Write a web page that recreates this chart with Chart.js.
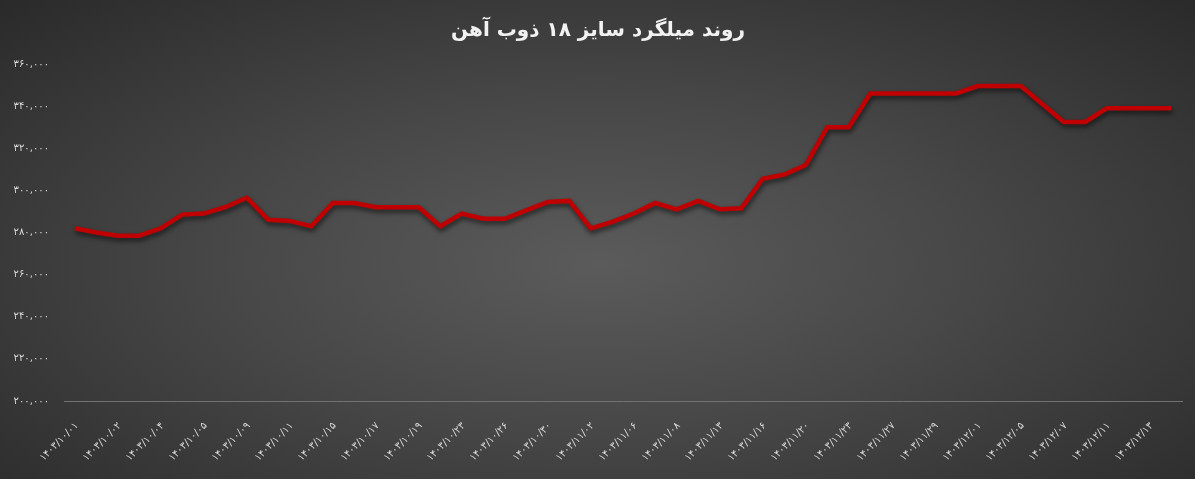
<!DOCTYPE html>
<html>
<head>
<meta charset="utf-8">
<script src="https://cdn.jsdelivr.net/npm/chart.js@4"></script>
<style>
  html, body { margin: 0; padding: 0; }
  body {
    width: 1195px; height: 479px; overflow: hidden;
    background: radial-gradient(ellipse farthest-corner at 50% 55%, #5b5b5b 0%, #474747 45%, #2a2a2a 100%);
  }
</style>
</head>
<body>
<canvas id="rebarChart" width="1195" height="479"></canvas>
<script>
const chartTitle = 'روند میلگرد سایز ۱۸ ذوب آهن';

// trading days (every other one is shown on the axis)
const dates = [
    '۱۴۰۳/۱۰/۰۱', '۱۴۰۳/۱۰/۰۱', '۱۴۰۳/۱۰/۰۲', '۱۴۰۳/۱۰/۰۳', '۱۴۰۳/۱۰/۰۴', '۱۴۰۳/۱۰/۰۴',
    '۱۴۰۳/۱۰/۰۵', '۱۴۰۳/۱۰/۰۸', '۱۴۰۳/۱۰/۰۹', '۱۴۰۳/۱۰/۱۰', '۱۴۰۳/۱۰/۱۱', '۱۴۰۳/۱۰/۱۲',
    '۱۴۰۳/۱۰/۱۵', '۱۴۰۳/۱۰/۱۶', '۱۴۰۳/۱۰/۱۷', '۱۴۰۳/۱۰/۱۸', '۱۴۰۳/۱۰/۱۹', '۱۴۰۳/۱۰/۲۲',
    '۱۴۰۳/۱۰/۲۳', '۱۴۰۳/۱۰/۲۴', '۱۴۰۳/۱۰/۲۶', '۱۴۰۳/۱۰/۲۹', '۱۴۰۳/۱۰/۳۰', '۱۴۰۳/۱۱/۰۱',
    '۱۴۰۳/۱۱/۰۲', '۱۴۰۳/۱۱/۰۳', '۱۴۰۳/۱۱/۰۶', '۱۴۰۳/۱۱/۰۷', '۱۴۰۳/۱۱/۰۸', '۱۴۰۳/۱۱/۱۰',
    '۱۴۰۳/۱۱/۱۳', '۱۴۰۳/۱۱/۱۴', '۱۴۰۳/۱۱/۱۶', '۱۴۰۳/۱۱/۱۷', '۱۴۰۳/۱۱/۲۰', '۱۴۰۳/۱۱/۲۱',
    '۱۴۰۳/۱۱/۲۳', '۱۴۰۳/۱۱/۲۴', '۱۴۰۳/۱۱/۲۷', '۱۴۰۳/۱۱/۲۸', '۱۴۰۳/۱۱/۲۹', '۱۴۰۳/۱۱/۳۰',
    '۱۴۰۳/۱۲/۰۱', '۱۴۰۳/۱۲/۰۴', '۱۴۰۳/۱۲/۰۵', '۱۴۰۳/۱۲/۰۶', '۱۴۰۳/۱۲/۰۷', '۱۴۰۳/۱۲/۰۸',
    '۱۴۰۳/۱۲/۱۱', '۱۴۰۳/۱۲/۱۲', '۱۴۰۳/۱۲/۱۳', '۱۴۰۳/۱۲/۱۴'
];

const prices = [
    282000, 280000, 278500, 278500, 282000, 288500, 289000, 292000, 296500, 286000,
    285500, 283000, 294000, 294000, 292000, 292000, 292000, 283000, 289000, 286500,
    286500, 290500, 294500, 295000, 282000, 285000, 289000, 294000, 291000, 295000,
    291000, 291500, 305500, 307500, 312000, 330000, 330000, 346000, 346000, 346000,
    346000, 346000, 349500, 349500, 349500, 341000, 332500, 332500, 339000, 339000,
    339000, 339000
];

const yMin = 200000;
const yMax = 360000;
const yStep = 20000;

const fontFamily = "'DejaVu Sans', sans-serif";
const faDigits = '۰۱۲۳۴۵۶۷۸۹';

function toFa(value) {
    const s = String(value).replace(/\B(?=(\d{3})+(?!\d))/g, ',');
    return s.replace(/\d/g, d => faDigits[d]);
}

// soft drop shadow under the line
const lineShadow = {
    id: 'lineShadow',
    beforeDatasetDraw(chart) {
        const ctx = chart.ctx;
        ctx.save();
        ctx.shadowColor = 'rgba(0, 0, 0, 0.6)';
        ctx.shadowBlur = 5;
        ctx.shadowOffsetX = 1;
        ctx.shadowOffsetY = 3;
    },
    afterDatasetDraw(chart) {
        chart.ctx.restore();
    }
};

const ctx = document.getElementById('rebarChart').getContext('2d');
new Chart(ctx, {
    type: 'line',
    data: {
        labels: dates,
        datasets: [{
            data: prices,
            borderColor: '#c00000',
            borderWidth: 4.5,
            pointRadius: 0,
            tension: 0,
            fill: false
        }]
    },
    options: {
        responsive: false,
        animation: false,
        layout: { padding: { left: 14, right: 13, top: 0, bottom: 0 } },
        plugins: {
            legend: { display: false },
            tooltip: { enabled: false },
            title: {
                display: true,
                text: chartTitle,
                color: '#f2f2f2',
                font: { family: fontFamily, size: 20, weight: 'bold' },
                padding: { top: 19, bottom: 21 }
            }
        },
        scales: {
            x: {
                offset: true,
                grid: { display: false, drawTicks: false },
                border: { display: true, color: '#727272', width: 1 },
                ticks: {
                    autoSkip: false,
                    minRotation: 45,
                    maxRotation: 45,
                    padding: 19,
                    labelOffset: 2,
                    color: '#dedede',
                    font: { family: fontFamily, size: 10 },
                    callback: (v, i) => (i % 2 === 0 ? dates[i] : '')
                },
                afterFit: scale => {
                    scale.height = 78;
                    scale.paddingLeft = 0;
                    scale.paddingRight = 0;
                }
            },
            y: {
                min: yMin,
                max: yMax,
                grid: { display: false, drawTicks: false },
                border: { display: false },
                ticks: {
                    stepSize: yStep,
                    padding: 15,
                    color: '#d9d9d9',
                    font: { family: fontFamily, size: 10 },
                    callback: v => toFa(v)
                },
                afterFit: scale => { scale.width = 50; }
            }
        }
    },
    plugins: [lineShadow]
});
</script>
</body>
</html>
